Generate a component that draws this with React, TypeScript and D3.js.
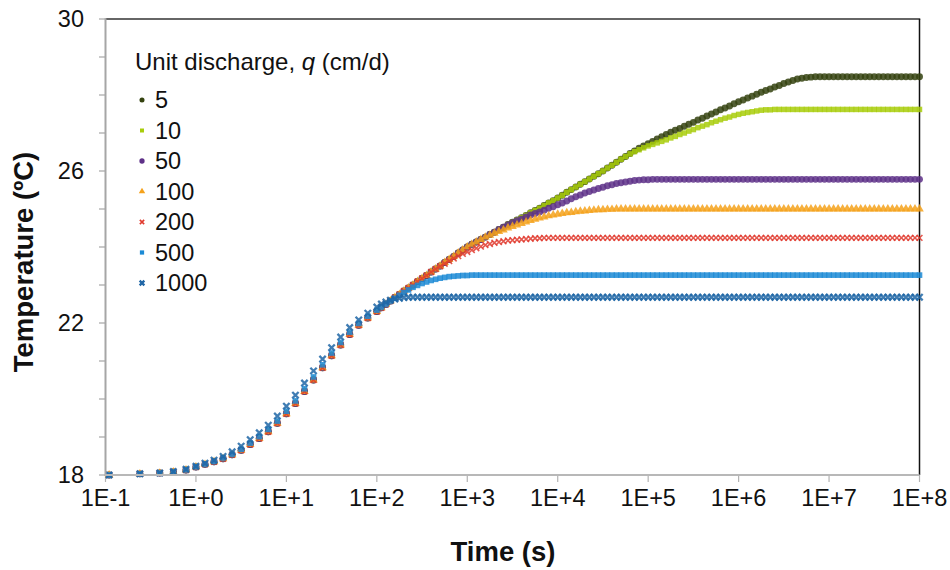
import React from 'react';
import * as d3 from 'd3';

// Time axis positions, as powers of ten (seconds)
const timeExponent = [
  -0.96, -0.62, -0.4, -0.25, -0.11,
  0, 0.1, 0.2, 0.3, 0.4, 0.5, 0.6, 0.7, 0.8, 0.9,
  1, 1.1, 1.2, 1.3, 1.4, 1.5, 1.6, 1.7, 1.8, 1.9, 2,
  2.05, 2.1, 2.15, 2.2, 2.25, 2.3, 2.35, 2.4, 2.45, 2.5,
  2.55, 2.6, 2.65, 2.7, 2.75, 2.8, 2.85, 2.9, 2.95, 3,
  3.05, 3.1, 3.15, 3.2, 3.25, 3.3, 3.35, 3.4, 3.45, 3.5,
  3.55, 3.6, 3.65, 3.7, 3.75, 3.8, 3.85, 3.9, 3.95, 4,
  4.05, 4.1, 4.15, 4.2, 4.25, 4.3, 4.35, 4.4, 4.45, 4.5,
  4.55, 4.6, 4.65, 4.7, 4.75, 4.8, 4.85, 4.9, 4.95, 5,
  5.05, 5.1, 5.15, 5.2, 5.25, 5.3, 5.35, 5.4, 5.45, 5.5,
  5.55, 5.6, 5.65, 5.7, 5.75, 5.8, 5.85, 5.9, 5.95, 6,
  6.05, 6.1, 6.15, 6.2, 6.25, 6.3, 6.35, 6.4, 6.45, 6.5,
  6.55, 6.6, 6.65, 6.7, 6.75, 6.8, 6.85, 6.9, 6.95, 7,
  7.05, 7.1, 7.15, 7.2, 7.25, 7.3, 7.35, 7.4, 7.45, 7.5,
  7.55, 7.6, 7.65, 7.7, 7.75, 7.8, 7.85, 7.9, 7.95, 8,
];

// Early warming shared by the low-discharge runs (t <= 100 s)
const riseTemp = [
  18.0, 18.03, 18.05, 18.08, 18.13,
  18.21, 18.28, 18.35, 18.43, 18.53, 18.65, 18.8, 18.96, 19.14, 19.36,
  19.61, 19.88, 20.2, 20.5, 20.82, 21.14, 21.42, 21.7, 21.94, 22.13, 22.3,
];

const q5Temp = [
  ...riseTemp,
  22.40, 22.49, 22.58, 22.67, 22.75, 22.84, 22.92, 23.00, 23.09, 23.17,
  23.25, 23.34, 23.42, 23.50, 23.59, 23.67, 23.75, 23.84, 23.92, 24.00,
  24.07, 24.13, 24.20, 24.26, 24.33, 24.39, 24.46, 24.52, 24.59, 24.65,
  24.71, 24.77, 24.83, 24.90, 24.96, 25.02, 25.09, 25.16, 25.22, 25.29,
  25.36, 25.44, 25.51, 25.58, 25.65, 25.72, 25.79, 25.86, 25.93, 26.00,
  26.08, 26.15, 26.23, 26.31, 26.38, 26.46, 26.53, 26.60, 26.66, 26.72,
  26.78, 26.84, 26.90, 26.96, 27.02, 27.07, 27.12, 27.18, 27.23, 27.28,
  27.34, 27.39, 27.45, 27.50, 27.55, 27.61, 27.66, 27.71, 27.77, 27.82,
  27.87, 27.92, 27.97, 28.02, 28.07, 28.12, 28.16, 28.21, 28.25, 28.30,
  28.34, 28.38, 28.42, 28.44, 28.46, 28.47, 28.48, 28.48, 28.48, 28.48,
  28.48, 28.48, 28.48, 28.48, 28.48, 28.48, 28.48, 28.48, 28.48, 28.48,
  28.48, 28.48, 28.48, 28.48, 28.48, 28.48, 28.48, 28.48, 28.48, 28.48,
];

const q10Temp = [
  ...riseTemp,
  22.40, 22.49, 22.58, 22.67, 22.75, 22.84, 22.92, 23.00, 23.09, 23.17,
  23.25, 23.34, 23.42, 23.50, 23.59, 23.67, 23.75, 23.84, 23.92, 24.00,
  24.07, 24.13, 24.20, 24.26, 24.33, 24.39, 24.46, 24.52, 24.59, 24.65,
  24.71, 24.77, 24.83, 24.90, 24.96, 25.02, 25.09, 25.16, 25.22, 25.29,
  25.36, 25.44, 25.51, 25.58, 25.65, 25.72, 25.79, 25.86, 25.93, 26.00,
  26.08, 26.15, 26.23, 26.31, 26.38, 26.45, 26.51, 26.56, 26.61, 26.66,
  26.70, 26.74, 26.78, 26.82, 26.87, 26.91, 26.96, 27.00, 27.05, 27.09,
  27.14, 27.18, 27.22, 27.27, 27.31, 27.35, 27.39, 27.42, 27.46, 27.49,
  27.52, 27.54, 27.56, 27.58, 27.60, 27.61, 27.61, 27.62, 27.62, 27.62,
  27.62, 27.62, 27.62, 27.62, 27.62, 27.62, 27.62, 27.62, 27.62, 27.62,
  27.62, 27.62, 27.62, 27.62, 27.62, 27.62, 27.62, 27.62, 27.62, 27.62,
  27.62, 27.62, 27.62, 27.62, 27.62, 27.62, 27.62, 27.62, 27.62, 27.62,
];

const q50Temp = [
  ...riseTemp,
  22.40, 22.49, 22.58, 22.67, 22.75, 22.84, 22.92, 23.00, 23.09, 23.17,
  23.25, 23.34, 23.42, 23.50, 23.59, 23.67, 23.75, 23.84, 23.92, 24.00,
  24.07, 24.13, 24.20, 24.26, 24.33, 24.39, 24.46, 24.52, 24.58, 24.64,
  24.69, 24.73, 24.79, 24.84, 24.88, 24.92, 24.97, 25.02, 25.06, 25.11,
  25.16, 25.21, 25.27, 25.32, 25.37, 25.42, 25.46, 25.50, 25.54, 25.57,
  25.61, 25.64, 25.67, 25.69, 25.71, 25.73, 25.75, 25.76, 25.77, 25.77,
  25.78, 25.78, 25.78, 25.78, 25.78, 25.78, 25.78, 25.78, 25.78, 25.78,
  25.78, 25.78, 25.78, 25.78, 25.78, 25.78, 25.78, 25.78, 25.78, 25.78,
  25.78, 25.78, 25.78, 25.78, 25.78, 25.78, 25.78, 25.78, 25.78, 25.78,
  25.78, 25.78, 25.78, 25.78, 25.78, 25.78, 25.78, 25.78, 25.78, 25.78,
  25.78, 25.78, 25.78, 25.78, 25.78, 25.78, 25.78, 25.78, 25.78, 25.78,
  25.78, 25.78, 25.78, 25.78, 25.78, 25.78, 25.78, 25.78, 25.78, 25.78,
];

const q100Temp = [
  ...riseTemp,
  22.40, 22.49, 22.58, 22.67, 22.75, 22.84, 22.92, 23.00, 23.09, 23.17,
  23.25, 23.34, 23.42, 23.50, 23.59, 23.67, 23.75, 23.84, 23.92, 24.00,
  24.07, 24.13, 24.20, 24.26, 24.31, 24.36, 24.41, 24.45, 24.50, 24.54,
  24.58, 24.62, 24.66, 24.70, 24.73, 24.76, 24.79, 24.82, 24.84, 24.86,
  24.88, 24.90, 24.91, 24.93, 24.94, 24.95, 24.96, 24.97, 24.98, 24.98,
  24.99, 24.99, 25.00, 25.00, 25.00, 25.00, 25.00, 25.00, 25.00, 25.00,
  25.00, 25.00, 25.00, 25.00, 25.00, 25.00, 25.00, 25.00, 25.00, 25.00,
  25.00, 25.00, 25.00, 25.00, 25.00, 25.00, 25.00, 25.00, 25.00, 25.00,
  25.00, 25.00, 25.00, 25.00, 25.00, 25.00, 25.00, 25.00, 25.00, 25.00,
  25.00, 25.00, 25.00, 25.00, 25.00, 25.00, 25.00, 25.00, 25.00, 25.00,
  25.00, 25.00, 25.00, 25.00, 25.00, 25.00, 25.00, 25.00, 25.00, 25.00,
  25.00, 25.00, 25.00, 25.00, 25.00, 25.00, 25.00, 25.00, 25.00, 25.00,
];

const q200Temp = [
  ...riseTemp,
  22.40, 22.49, 22.58, 22.67, 22.75, 22.84, 22.92, 23.00, 23.09, 23.17,
  23.25, 23.34, 23.42, 23.49, 23.56, 23.63, 23.70, 23.76, 23.82, 23.87,
  23.92, 23.97, 24.01, 24.05, 24.08, 24.11, 24.13, 24.15, 24.17, 24.18,
  24.19, 24.20, 24.21, 24.22, 24.23, 24.23, 24.24, 24.24, 24.24, 24.24,
  24.24, 24.24, 24.24, 24.24, 24.24, 24.24, 24.24, 24.24, 24.24, 24.24,
  24.24, 24.24, 24.24, 24.24, 24.24, 24.24, 24.24, 24.24, 24.24, 24.24,
  24.24, 24.24, 24.24, 24.24, 24.24, 24.24, 24.24, 24.24, 24.24, 24.24,
  24.24, 24.24, 24.24, 24.24, 24.24, 24.24, 24.24, 24.24, 24.24, 24.24,
  24.24, 24.24, 24.24, 24.24, 24.24, 24.24, 24.24, 24.24, 24.24, 24.24,
  24.24, 24.24, 24.24, 24.24, 24.24, 24.24, 24.24, 24.24, 24.24, 24.24,
  24.24, 24.24, 24.24, 24.24, 24.24, 24.24, 24.24, 24.24, 24.24, 24.24,
  24.24, 24.24, 24.24, 24.24, 24.24, 24.24, 24.24, 24.24, 24.24, 24.24,
];

const q500Temp = [
  18.0, 18.03, 18.05, 18.08, 18.14,
  18.22, 18.29, 18.36, 18.45, 18.55, 18.68, 18.84, 19.01, 19.2, 19.42,
  19.68, 19.95, 20.27, 20.58, 20.9, 21.21, 21.49, 21.76, 21.99, 22.18, 22.34,
  22.42, 22.50, 22.58, 22.65, 22.73, 22.80, 22.87, 22.94, 22.99, 23.04,
  23.08, 23.12, 23.15, 23.18, 23.20, 23.22, 23.23, 23.24, 23.25, 23.25,
  23.26, 23.26, 23.26, 23.26, 23.26, 23.26, 23.26, 23.26, 23.26, 23.26,
  23.26, 23.26, 23.26, 23.26, 23.26, 23.26, 23.26, 23.26, 23.26, 23.26,
  23.26, 23.26, 23.26, 23.26, 23.26, 23.26, 23.26, 23.26, 23.26, 23.26,
  23.26, 23.26, 23.26, 23.26, 23.26, 23.26, 23.26, 23.26, 23.26, 23.26,
  23.26, 23.26, 23.26, 23.26, 23.26, 23.26, 23.26, 23.26, 23.26, 23.26,
  23.26, 23.26, 23.26, 23.26, 23.26, 23.26, 23.26, 23.26, 23.26, 23.26,
  23.26, 23.26, 23.26, 23.26, 23.26, 23.26, 23.26, 23.26, 23.26, 23.26,
  23.26, 23.26, 23.26, 23.26, 23.26, 23.26, 23.26, 23.26, 23.26, 23.26,
  23.26, 23.26, 23.26, 23.26, 23.26, 23.26, 23.26, 23.26, 23.26, 23.26,
  23.26, 23.26, 23.26, 23.26, 23.26, 23.26, 23.26, 23.26, 23.26, 23.26,
];

const q1000Temp = [
  18.0, 18.03, 18.05, 18.09, 18.15,
  18.23, 18.31, 18.39, 18.49, 18.61, 18.76, 18.93, 19.11, 19.31, 19.55,
  19.81, 20.1, 20.42, 20.74, 21.05, 21.35, 21.63, 21.88, 22.08, 22.26, 22.42,
  22.50, 22.55, 22.60, 22.63, 22.65, 22.67, 22.68, 22.68, 22.68, 22.68,
  22.68, 22.68, 22.68, 22.68, 22.68, 22.68, 22.68, 22.68, 22.68, 22.68,
  22.68, 22.68, 22.68, 22.68, 22.68, 22.68, 22.68, 22.68, 22.68, 22.68,
  22.68, 22.68, 22.68, 22.68, 22.68, 22.68, 22.68, 22.68, 22.68, 22.68,
  22.68, 22.68, 22.68, 22.68, 22.68, 22.68, 22.68, 22.68, 22.68, 22.68,
  22.68, 22.68, 22.68, 22.68, 22.68, 22.68, 22.68, 22.68, 22.68, 22.68,
  22.68, 22.68, 22.68, 22.68, 22.68, 22.68, 22.68, 22.68, 22.68, 22.68,
  22.68, 22.68, 22.68, 22.68, 22.68, 22.68, 22.68, 22.68, 22.68, 22.68,
  22.68, 22.68, 22.68, 22.68, 22.68, 22.68, 22.68, 22.68, 22.68, 22.68,
  22.68, 22.68, 22.68, 22.68, 22.68, 22.68, 22.68, 22.68, 22.68, 22.68,
  22.68, 22.68, 22.68, 22.68, 22.68, 22.68, 22.68, 22.68, 22.68, 22.68,
  22.68, 22.68, 22.68, 22.68, 22.68, 22.68, 22.68, 22.68, 22.68, 22.68,
];

const dischargeLabels = ['5', '10', '50', '100', '200', '500', '1000'];
const seriesTemps = [q5Temp, q10Temp, q50Temp, q100Temp, q200Temp, q500Temp, q1000Temp];
const seriesColors = ['#34420f', '#a8cd0b', '#5e3188', '#f5a21c', '#e03a2e', '#1b8ad5', '#1f66a6'];

const tempTicks = [18, 19, 20, 21, 22, 23, 24, 25, 26, 27, 28, 29, 30];
const tempLabels = [18, 22, 26, 30];
const timeTickExponents = [-1, 0, 1, 2, 3, 4, 5, 6, 7, 8];
const timeTickLabels = ['1E-1', '1E+0', '1E+1', '1E+2', '1E+3', '1E+4', '1E+5', '1E+6', '1E+7', '1E+8'];

const FONT = '"Liberation Sans", Arial, Helvetica, sans-serif';

type MarkerStyle = { type: d3.SymbolType; size: number; legendSize: number; stroked: boolean; width?: number };
const markerStyles: MarkerStyle[] = [
  { type: d3.symbolCircle, size: 38, legendSize: 20, stroked: false },
  { type: d3.symbolSquare, size: 30, legendSize: 16, stroked: false },
  { type: d3.symbolCircle, size: 38, legendSize: 22, stroked: false },
  { type: d3.symbolTriangle, size: 32, legendSize: 18, stroked: false },
  { type: d3.symbolTimes, size: 24, legendSize: 14, stroked: true, width: 1.6 },
  { type: d3.symbolSquare, size: 32, legendSize: 18, stroked: false },
  { type: d3.symbolTimes, size: 28, legendSize: 16, stroked: true, width: 2.3 },
];

function Marker({ style, color, x, y, size, opacity }: { style: MarkerStyle; color: string; x: number; y: number; size: number; opacity: number }) {
  const path = d3.symbol().type(style.type).size(size)() || '';
  return style.stroked ? (
    <path d={path} transform={`translate(${x},${y})`} fill="none" stroke={color} strokeWidth={style.width} opacity={opacity} />
  ) : (
    <path d={path} transform={`translate(${x},${y})`} fill={color} opacity={opacity} />
  );
}

export default function App() {
  const width = 950;
  const height = 570;
  const left = 105.5;
  const right = 919.5;
  const top = 19;
  const bottom = 475;

  const x = d3.scaleLog().domain([0.1, 1e8]).range([left, right]);
  const y = d3.scaleLinear().domain([18, 30]).range([bottom, top]);

  const legendX = 142;
  const legendTextX = 155;
  const legendY0 = 100;
  const legendStep = 30.5;

  return (
    <svg
      width={width}
      height={height}
      viewBox={`0 0 ${width} ${height}`}
      style={{ position: 'absolute', left: 0, top: 0, background: '#fff', fontFamily: FONT }}
    >
      <rect x={0} y={0} width={width} height={height} fill="#fff" />

      {/* plot frame: dark top and right edges */}
      <line x1={left} x2={right + 0.75} y1={top} y2={top} stroke="#333" strokeWidth={1.4} />
      <line x1={right} x2={right} y1={top} y2={bottom} stroke="#111" strokeWidth={1.5} />

      {/* temperature axis */}
      {tempTicks.map((t) => (
        <line key={`yt${t}`} x1={99} x2={left} y1={y(t)} y2={y(t)} stroke="#a6a6a6" strokeWidth={1.2} />
      ))}
      {tempLabels.map((t) => (
        <text key={`yl${t}`} x={84} y={y(t)} dy="0.36em" textAnchor="end" fontSize={23.5} fill="#111">
          {t}
        </text>
      ))}

      {/* time axis */}
      {timeTickExponents.map((e) => (
        <line key={`xt${e}`} x1={x(Math.pow(10, e))} x2={x(Math.pow(10, e))} y1={bottom} y2={bottom + 7} stroke="#b3b3b3" strokeWidth={1.2} />
      ))}
      {timeTickExponents.map((e, i) => (
        <text key={`xl${e}`} x={x(Math.pow(10, e))} y={498} dy="0.36em" textAnchor="middle" fontSize={23.5} fill="#111">
          {timeTickLabels[i]}
        </text>
      ))}

      {/* series markers */}
      {seriesTemps.map((temps, si) => (
        <g key={`s${si}`}>
          {d3.zip(timeExponent, temps).map(([e, t], i) => (
            <Marker
              key={i}
              style={markerStyles[si]}
              color={seriesColors[si]}
              x={x(Math.pow(10, e))}
              y={y(t)}
              size={markerStyles[si].size}
              opacity={0.85}
            />
          ))}
        </g>
      ))}

      <line x1={left} x2={left} y1={top - 0.7} y2={bottom + 1} stroke="#a6a6a6" strokeWidth={2} />
      <line x1={left - 1} x2={right} y1={bottom} y2={bottom} stroke="#b8b8b8" strokeWidth={2} />

      {/* legend */}
      <text x={135} y={61} dy="0.36em" fontSize={24} fill="#111">
        Unit discharge, <tspan fontStyle="italic">q</tspan> (cm/d)
      </text>
      {dischargeLabels.map((lab, i) => (
        <g key={`lg${lab}`}>
          <Marker
            style={markerStyles[i]}
            color={seriesColors[i]}
            x={legendX}
            y={legendY0 + i * legendStep}
            size={markerStyles[i].legendSize}
            opacity={1}
          />
          <text x={legendTextX} y={legendY0 + i * legendStep} dy="0.36em" fontSize={23.5} fill="#111">
            {lab}
          </text>
        </g>
      ))}

      {/* axis titles */}
      <text x={503} y={551} dy="0.36em" textAnchor="middle" fontSize={27.5} fontWeight="bold" fill="#111">
        Time (s)
      </text>
      <text
        transform={`translate(23,262) rotate(-90)`}
        dy="0.36em"
        textAnchor="middle"
        fontSize={27.5}
        fontWeight="bold"
        fill="#111"
      >
        Temperature (ºC)
      </text>
    </svg>
  );
}
